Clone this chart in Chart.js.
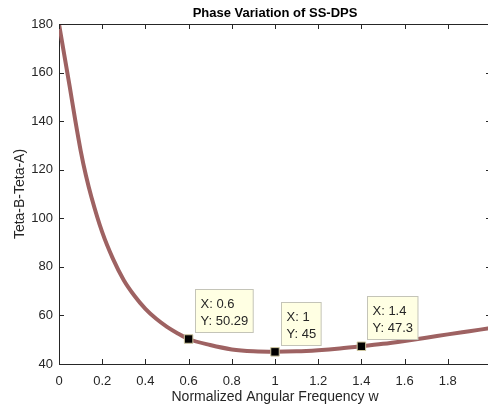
<!DOCTYPE html>
<html lang="en">
<head>
    <meta charset="UTF-8">
    <title>Phase Variation of SS-DPS</title>
    <script src="https://cdn.jsdelivr.net/npm/chart.js@4.4.1/dist/chart.umd.min.js"></script>
    <style>
        body {
            margin: 0;
            padding: 0;
            background: #fff;
        }
        .chart-container {
            width: 488px;
            height: 410px;
            overflow: hidden;
        }
    </style>
</head>
<body>
    <div class="chart-container">
        <canvas id="phaseChart" width="491" height="410"></canvas>
    </div>

    <script>
        // normalized angular frequency w
        const freq = [0, 0.025, 0.05, 0.075, 0.1, 0.125, 0.15, 0.2, 0.25, 0.3, 0.35, 0.4, 0.45, 0.5, 0.55, 0.6,
                      0.7, 0.8, 0.9, 1.0, 1.1, 1.2, 1.3, 1.4, 1.5, 1.6, 1.7, 1.8, 1.9, 2.0];
        // Teta-B - Teta-A (degrees)
        const phase = [180, 167, 154, 140.5, 128, 117.5, 108.8, 94.3, 83.3, 74.5, 68.0, 62.7, 58.6, 55.3, 52.6, 50.29,
                       47.8, 46.0, 45.2, 45, 45.2, 45.7, 46.4, 47.3, 48.3, 49.5, 50.8, 52.2, 53.5, 54.8];

        // data tips
        const tipX = [0.6, 1, 1.4];
        const tipY = [50.29, 45, 47.3];
        const tipLabels = [['X: 0.6', 'Y: 50.29'], ['X: 1', 'Y: 45'], ['X: 1.4', 'Y: 47.3']];

        const axisColor = '#262626';
        const fontFamily = 'Arial, "Liberation Sans", sans-serif';

        // box outline + inward ticks, like a matlab axes
        const boxTicks = {
            id: 'boxTicks',
            afterDraw(chart) {
                const { ctx, chartArea: a, scales } = chart;
                ctx.save();
                ctx.strokeStyle = axisColor;
                ctx.lineWidth = 1;
                ctx.beginPath();
                ctx.moveTo(a.left, a.top + 0.5);
                ctx.lineTo(a.right, a.top + 0.5);
                ctx.moveTo(a.right - 0.5, a.top);
                ctx.lineTo(a.right - 0.5, a.bottom);
                scales.x.ticks.forEach(t => {
                    const px = Math.round(scales.x.getPixelForValue(t.value)) + 0.5;
                    ctx.moveTo(px, a.bottom);
                    ctx.lineTo(px, a.bottom - 5);
                    ctx.moveTo(px, a.top);
                    ctx.lineTo(px, a.top + 5);
                });
                scales.y.ticks.forEach(t => {
                    const py = Math.round(scales.y.getPixelForValue(t.value)) + 0.5;
                    ctx.moveTo(a.left, py);
                    ctx.lineTo(a.left + 5, py);
                    ctx.moveTo(a.right, py);
                    ctx.lineTo(a.right - 5, py);
                });
                ctx.stroke();
                ctx.restore();
            }
        };

        const dataTips = {
            id: 'dataTips',
            afterDatasetsDraw(chart) {
                const { ctx, scales } = chart;
                ctx.save();
                ctx.font = '13px ' + fontFamily;
                ctx.textBaseline = 'alphabetic';
                tipX.forEach((xv, i) => {
                    const mx = scales.x.getPixelForValue(xv);
                    const my = scales.y.getPixelForValue(tipY[i]);
                    const lines = tipLabels[i];
                    const w = Math.max(...lines.map(l => ctx.measureText(l).width)) + 10;
                    const h = 43;
                    const left = Math.round(mx + 6) + 0.5;
                    const top = Math.round(my - 7 - h) + 0.5;
                    ctx.fillStyle = '#FFFFE3';
                    ctx.fillRect(left, top, w, h);
                    ctx.strokeStyle = '#C4C4B8';
                    ctx.lineWidth = 1;
                    ctx.strokeRect(left, top, w, h);
                    ctx.fillStyle = axisColor;
                    ctx.fillText(lines[0], left + 5, top + 18);
                    ctx.fillText(lines[1], left + 5, top + 35);
                });
                ctx.restore();
            }
        };

        function createChart() {
            const ctx = document.getElementById('phaseChart').getContext('2d');

            new Chart(ctx, {
                type: 'line',
                data: {
                    datasets: [{
                        data: tipX.map((x, i) => ({ x: x, y: tipY[i] })),
                        showLine: false,
                        pointStyle: 'rect',
                        pointRadius: 6,
                        pointBackgroundColor: '#000',
                        pointBorderColor: '#CFC7A0',
                        pointBorderWidth: 1,
                        order: 0
                    }, {
                        data: freq.map((x, i) => ({ x: x, y: phase[i] })),
                        borderColor: '#9E6262',
                        borderWidth: 4,
                        pointRadius: 0,
                        cubicInterpolationMode: 'monotone',
                        fill: false,
                        order: 1
                    }]
                },
                options: {
                    responsive: false,
                    animation: false,
                    layout: { autoPadding: false, padding: 0 },
                    scales: {
                        x: {
                            type: 'linear',
                            min: 0,
                            max: 2,
                            grid: { display: false, tickLength: 0 },
                            border: { display: true, color: axisColor },
                            ticks: {
                                stepSize: 0.2,
                                padding: 10,
                                maxRotation: 0,
                                color: axisColor,
                                font: { family: fontFamily, size: 13 },
                                callback: v => String(Math.round(v * 10) / 10)
                            },
                            title: {
                                display: true,
                                text: 'Normalized Angular Frequency w',
                                color: axisColor,
                                padding: { top: 0, bottom: 4 },
                                font: { family: fontFamily, size: 14 }
                            },
                            afterFit: s => { s.height = 46; s.paddingLeft = 0; s.paddingRight = 0; }
                        },
                        y: {
                            min: 40,
                            max: 180,
                            grid: { display: false, tickLength: 0 },
                            border: { display: true, color: axisColor },
                            ticks: {
                                stepSize: 20,
                                padding: 6,
                                color: axisColor,
                                font: { family: fontFamily, size: 13 }
                            },
                            title: {
                                display: true,
                                text: 'Teta-B-Teta-A)',
                                color: axisColor,
                                padding: { top: 12, bottom: 0 },
                                font: { family: fontFamily, size: 14 }
                            },
                            afterFit: s => { s.width = 59; s.paddingTop = 0; s.paddingBottom = 0; }
                        }
                    },
                    plugins: {
                        legend: { display: false },
                        tooltip: { enabled: false },
                        title: {
                            display: true,
                            fullSize: false,
                            text: 'Phase Variation of SS-DPS',
                            color: '#000',
                            padding: { top: 6, bottom: 2.4 },
                            font: { family: fontFamily, size: 13, weight: 'bold' }
                        }
                    }
                },
                plugins: [boxTicks, dataTips]
            });
        }

        createChart();
    </script>
</body>
</html>
